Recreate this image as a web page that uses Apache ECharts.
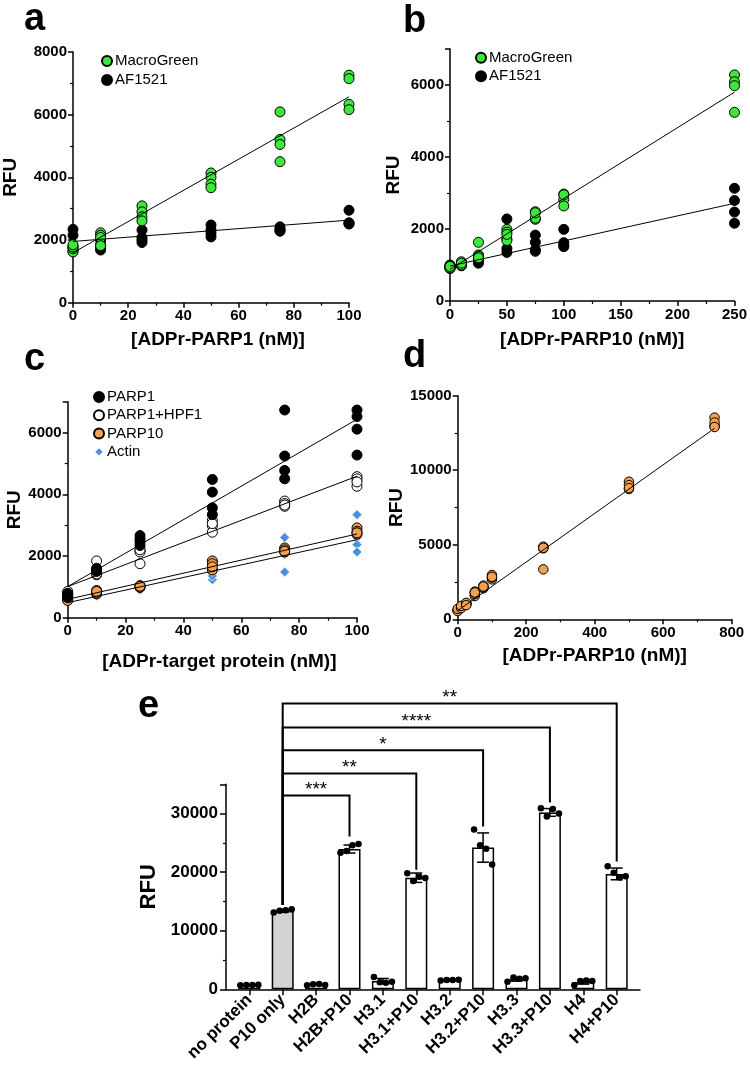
<!DOCTYPE html>
<html><head><meta charset="utf-8">
<script src="https://cdn.jsdelivr.net/npm/echarts@6/dist/echarts.min.js"></script>
<style>html,body{margin:0;padding:0;background:#fff}#c{width:750px;height:1072px}</style>
</head><body><div id="c"></div>
<script>
// ---------- Panel a ----------
const aX = [0, 10, 25, 50, 75, 100];
const aMacroGreen = [[1620,1720,1780,1850],[2230,2150,2080,1820],[3090,2900,2740,2610],[4140,4000,3780,3670],[6090,5210,5050,4500],[7260,7150,6330,6160]];
const aAF1521 = [[2340,2150,1780,1650],[2000,1850,1750,1680],[2320,2080,2000,1920],[2480,2320,2210,2100],[2420,2350,2300,2280],[2950,2550,2530,2510]];
const aFitMacroGreen = [[0,1594],[100,6568]];
const aFitAF1521 = [[0,1955],[100,2635]];
// ---------- Panel b ----------
const bX = [0, 10, 25, 50, 75, 100, 250];
const bMacroGreen = [[900,950,920,960],[1090,980,1000,1050],[1630,1280,1250,1200],[1990,1910,1680,1850],[2480,2270,2300,2450],[2970,2820,2640,2950],[6280,6090,5980,5240]];
const bAF1521 = [[980,1000,950,920],[1000,1050,980,1020],[1050,1180,1100,1150],[2280,1720,1460,1350],[1830,1630,1420,1380],[1990,1620,1510,1550],[3130,2790,2470,2160]];
const bFitMacroGreen = [[0,880],[250,5800]];
const bFitAF1521 = [[0,972],[250,2713]];
// ---------- Panel c ----------
const cX = [0, 10, 25, 50, 75, 100];
const cPARP1 = [[790,680,720,750],[1600,1500,1550,1530],[2660,2550,2450,2340],[4480,4070,3560,3340],[6730,5240,4770,4500],[6730,6520,6110,5270]];
const cPARP1HPF1 = [[800,700,750,850],[1840,1390,1450,1420],[2180,2130,1750,2200],[3150,2980,2770,3050],[3780,3610,3700,3650],[4570,4260,4500,4400]];
const cPARP10 = [[575,600,560,650],[880,770,800,850],[1040,980,1000,1020],[1840,1750,1550,1650],[2260,2130,2200,2150],[2910,2710,2800,2750]];
const cActin = [[600,550,650,620],[700,750,720,780],[900,950,980,1000],[1440,1230,1350,1500],[2600,1480,2050,2100],[3340,2600,2370,2130]];
const cFitPARP1 = [[0,1009],[100,6430]];
const cFitPARP1HPF1 = [[0,1009],[100,4585]];
const cFitPARP10 = [[0,597],[100,2712]];
const cFitActin = [[0,488],[100,2527]];
// ---------- Panel d ----------
const dX = [0, 10, 25, 50, 75, 100, 250, 500, 750];
const dPARP10 = [[600,650,550,700],[850,800,750,900],[1070,1000,1100,950],[1860,1560,1700,1800],[2260,2080,2150,2200],[2970,2680,2800,2850],[4870,4760,3350,4800],[9230,8740,9000,8800],[13530,12970,13200,12900]];
const dFit = [[0,581],[750,12810]];
// ---------- Panel e ----------
const eCategories = ['no protein','P10 only','H2B','H2B+P10','H3.1','H3.1+P10','H3.2','H3.2+P10','H3.3','H3.3+P10','H4','H4+P10'];
const ePoints = [[700,750,720,760],[13100,13400,13500,13650],[700,850,900,750],[23300,23600,24600,24800],[2100,1200,1100,1300],[19800,18500,19200,19000],[1500,1600,1600,1650],[27300,24600,24000,21300],[1300,2000,1800,1900],[30900,29500,30800,30000],[700,1400,1500,1400],[21000,19900,19100,19300]];
const eMeans = [730, 13400, 800, 23950, 1400, 19050, 1600, 24200, 1700, 30200, 1250, 19700];
const eSD = [40, 250, 90, 680, 450, 800, 60, 2500, 310, 660, 370, 1000];
const eCompareFrom = 1;
const eCompareTo = [3, 5, 7, 9, 11];
const eBracketLevel = [33100, 36850, 40800, 44700, 48800];
const eBracketEnd = [26100, 20400, 27800, 31900, 21800];
const eBracketStart = 14400;
const eStars = ['***', '**', '*', '****', '**'];

// ---------- styling ----------
const FONT = '"Liberation Sans", Arial, Helvetica, sans-serif';
const GREEN = '#3BE83B', ORANGE = '#F5A04E', BLUE = '#4A90DC';
const JITTER = [-0.27, -0.09, 0.09, 0.27];

function pts(xs, groups) { const out = []; xs.forEach((x, i) => groups[i].forEach(v => out.push([x, v]))); return out; }

function axis(o) {
  return Object.assign({
    type: 'value',
    axisLine: { show: true, onZero: false, lineStyle: { color: '#000', width: 1.5 } },
    axisTick: { show: true, inside: false, length: 5, lineStyle: { color: '#000', width: 1.5 } },
    minorTick: { show: true, splitNumber: 2, length: 3, lineStyle: { color: '#000', width: 1.2 } },
    splitLine: { show: false },
    axisLabel: { fontFamily: FONT, fontWeight: 'bold', fontSize: 15, color: '#000', margin: 6,
      formatter: o.labelStep ? (v => (v % o.labelStep === 0 ? String(v) : '')) : undefined },
    nameLocation: 'middle',
    nameTextStyle: { fontFamily: FONT, fontWeight: 'bold', fontSize: 19, color: '#000', padding: o.namePad || 0 }
  }, o);
}

function scat(name, xi, data, color, extra) {
  return Object.assign({
    type: 'scatter', name, xAxisIndex: xi, yAxisIndex: xi, data,
    symbol: 'circle', symbolSize: 10,
    itemStyle: { color, borderColor: '#000', borderWidth: 1, opacity: 1 },
    emphasis: { disabled: true }, z: 2
  }, extra || {});
}
function fit(xi, data) {
  return { type: 'line', xAxisIndex: xi, yAxisIndex: xi, data, symbol: 'none', silent: true,
    lineStyle: { color: '#000', width: 1 }, z: 5, emphasis: { disabled: true } };
}
function legend(left, top, names, gap) {
  return { left, top, orient: 'vertical', itemWidth: 10, itemHeight: 10, itemGap: gap, padding: 0,
    data: names, selectedMode: false,
    textStyle: { fontFamily: FONT, fontSize: 15, color: '#000', padding: [0, 0, 0, -2] } };
}

const chart = echarts.init(document.getElementById('c'), null, { renderer: 'canvas' });
const option = {
  animation: false,
  backgroundColor: '#fff',
  textStyle: { fontFamily: FONT },
  grid: [
    { left: 70.7, top: 52, width: 278.3, height: 250.7 },
    { left: 450, top: 49, width: 288, height: 252 },
    { left: 67.7, top: 401.7, width: 289.3, height: 216 },
    { left: 457.7, top: 395.7, width: 274, height: 223.6 },
    { left: 232.6, top: 784.3, width: 400.8, height: 205 },
    { left: 226, top: 784.3, width: 414, height: 205 }
  ],
  legend: [
    legend(101, 53.5, ['MacroGreen', 'AF1521'], 4),
    legend(475, 50.2, ['MacroGreen', 'AF1521'], 3.5),
    legend(93, 389.5, ['PARP1', 'PARP1+HPF1', 'PARP10', 'Actin'], 3.3)
  ],
  xAxis: [
    axis({ gridIndex: 0, min: 0, max: 100, interval: 20, name: '[ADPr-PARP1 (nM)]', nameGap: 28, namePad: [0, 0, 0, 14] }),
    axis({ gridIndex: 1, min: 0, max: 250, interval: 50, name: '[ADPr-PARP10 (nM)]', nameGap: 29 }),
    axis({ gridIndex: 2, min: 0, max: 100, interval: 20, name: '[ADPr-target protein (nM)]', nameGap: 35, namePad: [0, 0, 0, 14] }),
    axis({ gridIndex: 3, min: 0, max: 800, interval: 200, name: '[ADPr-PARP10 (nM)]', nameGap: 27 }),
    { type: 'category', gridIndex: 4, data: eCategories,
      axisLine: { show: false },
      axisTick: { show: true, alignWithLabel: true, length: 6, lineStyle: { color: '#000', width: 1.5 } },
      axisLabel: { rotate: 45, interval: 0, fontFamily: FONT, fontWeight: 'bold', fontSize: 17, color: '#000', margin: 8 },
      splitLine: { show: false } },
    { type: 'value', gridIndex: 4, min: -0.5, max: 11.5, show: false },
    { type: 'value', gridIndex: 5, min: 0, max: 1, axisLine: { show: true, onZero: false, lineStyle: { color: '#000', width: 1.5 } },
      axisTick: { show: false }, axisLabel: { show: false }, splitLine: { show: false } }
  ],
  yAxis: [
    axis({ gridIndex: 0, min: 0, max: 8000, interval: 2000, name: 'RFU', nameGap: 53, labelStep: 2000 }),
    axis({ gridIndex: 1, min: 0, max: 7000, interval: 2000, name: 'RFU', nameGap: 47, labelStep: 2000 }),
    axis({ gridIndex: 2, min: 0, max: 7000, interval: 2000, name: 'RFU', nameGap: 41, labelStep: 2000 }),
    axis({ gridIndex: 3, min: 0, max: 15000, interval: 5000, name: 'RFU', nameGap: 50, labelStep: 5000 }),
    { type: 'value', gridIndex: 4, min: 0, max: 35000, show: false },
    axis({ gridIndex: 5, min: 0, max: 35000, interval: 10000, name: 'RFU', nameGap: 58, labelStep: 10000,
      axisTick: { show: true, inside: false, length: 6, lineStyle: { color: '#000', width: 1.5 } },
      nameTextStyle: { fontFamily: FONT, fontWeight: 'bold', fontSize: 22, color: '#000' },
      axisLabel: { fontFamily: FONT, fontWeight: 'bold', fontSize: 17, color: '#000', margin: 8,
        formatter: v => (v % 10000 === 0 ? String(v) : '') } })
  ],
  series: [
    // a
    scat('AF1521', 0, pts(aX, aAF1521), '#000'),
    scat('MacroGreen', 0, pts(aX, aMacroGreen), GREEN, { z: 3 }),
    fit(0, aFitMacroGreen), fit(0, aFitAF1521),
    // b
    scat('AF1521', 1, pts(bX, bAF1521), '#000'),
    scat('MacroGreen', 1, pts(bX, bMacroGreen), GREEN, { z: 3 }),
    fit(1, bFitMacroGreen), fit(1, bFitAF1521),
    // c
    scat('Actin', 2, pts(cX, cActin), BLUE, { symbol: 'diamond', symbolSize: 10, itemStyle: { color: BLUE, borderColor: '#fff', borderWidth: 0.8, opacity: 1 } }),
    scat('PARP10', 2, pts(cX, cPARP10), ORANGE, { z: 3 }),
    scat('PARP1+HPF1', 2, pts(cX, cPARP1HPF1), '#fff', { z: 3 }),
    scat('PARP1', 2, pts(cX, cPARP1), '#000', { z: 3 }),
    fit(2, cFitPARP1), fit(2, cFitPARP1HPF1), fit(2, cFitPARP10), fit(2, cFitActin),
    // d
    scat('PARP10', 3, pts(dX, dPARP10), ORANGE, { symbolSize: 9.5 }),
    fit(3, dFit),
    // e bars
    { type: 'bar', xAxisIndex: 4, yAxisIndex: 4, barWidth: 22, silent: true,
      data: eMeans.map((m, i) => ({ value: m, itemStyle: { color: i === eCompareFrom ? '#D3D3D3' : '#fff' } })),
      itemStyle: { borderColor: '#000', borderWidth: 1.5 }, z: 2 },
    // e error bars
    { type: 'custom', xAxisIndex: 5, yAxisIndex: 4, silent: true, z: 3,
      data: eMeans.map((m, i) => [i, m, eSD[i]]),
      renderItem: (params, api) => {
        const i = api.value(0), m = api.value(1), s = api.value(2);
        const t = api.coord([i, m + s]), b = api.coord([i, m - s]);
        const hw = 6, st = { stroke: '#000', lineWidth: 1.5 };
        return { type: 'group', children: [
          { type: 'line', shape: { x1: t[0], y1: t[1], x2: b[0], y2: b[1] }, style: st },
          { type: 'line', shape: { x1: t[0] - hw, y1: t[1], x2: t[0] + hw, y2: t[1] }, style: st },
          { type: 'line', shape: { x1: b[0] - hw, y1: b[1], x2: b[0] + hw, y2: b[1] }, style: st }
        ] };
      } },
    // e points
    { type: 'scatter', xAxisIndex: 5, yAxisIndex: 4, symbolSize: 6.5, silent: true, z: 4,
      itemStyle: { color: '#000', opacity: 1 },
      data: ePoints.flatMap((g, i) => g.map((v, j) => [i + JITTER[j], v])) },
    // e significance brackets
    { type: 'custom', xAxisIndex: 5, yAxisIndex: 4, silent: true, z: 5, clip: false,
      data: eCompareTo.map((t, k) => [eCompareFrom, t, eBracketLevel[k], eBracketStart, eBracketEnd[k]]),
      renderItem: (params, api) => {
        const f = api.value(0), t = api.value(1), lv = api.value(2), s0 = api.value(3), s1 = api.value(4);
        const pL0 = api.coord([f, s0]), pL1 = api.coord([f, lv]), pR1 = api.coord([t, lv]), pR0 = api.coord([t, s1]);
        const st = { stroke: '#000', lineWidth: 2, fill: null };
        return { type: 'group', children: [
          { type: 'polyline', shape: { points: [pL0, pL1, pR1, pR0] }, style: st },
          { type: 'text', x: (pL1[0] + pR1[0]) / 2, y: pL1[1] + 4,
            style: { text: eStars[params.dataIndex], fontFamily: FONT, fontSize: 19, fill: '#000', align: 'center', verticalAlign: 'bottom' } }
        ] };
      } }
  ],
  graphic: [
    { type: 'text', left: 24, top: 1, style: { text: 'a', font: 'bold 38px ' + FONT, fill: '#000' } },
    { type: 'text', left: 403, top: 3, style: { text: 'b', font: 'bold 38px ' + FONT, fill: '#000' } },
    { type: 'text', left: 24, top: 341, style: { text: 'c', font: 'bold 38px ' + FONT, fill: '#000' } },
    { type: 'text', left: 403, top: 338, style: { text: 'd', font: 'bold 38px ' + FONT, fill: '#000' } },
    { type: 'text', left: 138, top: 688, style: { text: 'e', font: 'bold 38px ' + FONT, fill: '#000' } }
  ]
};
chart.setOption(option);
</script></body></html>
